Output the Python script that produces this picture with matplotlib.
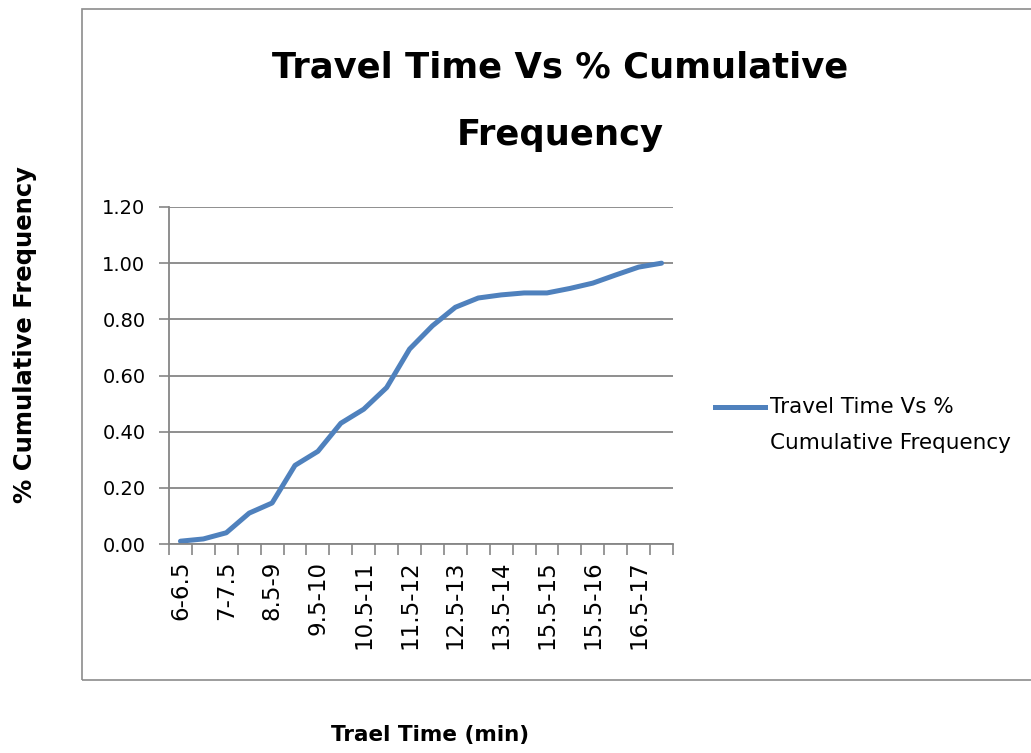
import matplotlib.pyplot as plt
from matplotlib.patches import Rectangle
from matplotlib.lines import Line2D

# Travel time bins (every other label shown on the axis)
bins = ['6-6.5', '6.5-7', '7-7.5', '7.5-8', '8.5-9', '9-9.5', '9.5-10', '10-10.5',
        '10.5-11', '11-11.5', '11.5-12', '12-12.5', '12.5-13', '13-13.5', '13.5-14',
        '14-14.5', '15.5-15', '15-15.5', '15.5-16', '16-16.5', '16.5-17', '17-17.5']
cum_freq = [0.01, 0.018, 0.04, 0.11, 0.146, 0.28, 0.33, 0.43, 0.48, 0.557, 0.694,
            0.777, 0.843, 0.876, 0.887, 0.894, 0.894, 0.91, 0.929, 0.958, 0.986, 1.0]
y_ticks = [0.0, 0.2, 0.4, 0.6, 0.8, 1.0, 1.2]

series_name = "Travel Time Vs % Cumulative Frequency"
line_color = '#4F81BD'
grid_color = '#868686'
plt.rcParams['font.family'] = ['DejaVu Sans']

W, H = 1031, 753
fig = plt.figure(figsize=(W / 100, H / 100), dpi=100)

# chart frame
fig.patches.append(Rectangle((82 / W, 1 - 680 / H), 1.2, (680 - 9) / H,
                             transform=fig.transFigure, fill=False,
                             edgecolor='#8c8c8c', linewidth=1.2))

ax = fig.add_axes([169 / W, 1 - 544 / H, (673 - 169) / W, (544 - 207) / H])
x = list(range(len(bins)))
ax.plot(x, cum_freq, color=line_color, linewidth=3.6, solid_capstyle='round')

ax.set_xlim(-0.5, len(bins) - 0.5)
ax.set_ylim(0, 1.2)
ax.set_yticks(y_ticks)
ax.set_yticklabels([f"{v:.2f}" for v in y_ticks], fontsize=14)
ax.yaxis.grid(True, color=grid_color, linewidth=1.3)
ax.set_axisbelow(True)

ax.set_xticks(x[::2])
ax.set_xticklabels(bins[::2], rotation=90, fontsize=16.5)
ax.set_xticks([i - 0.5 for i in range(len(bins) + 1)], minor=True)
ax.tick_params(axis='x', which='major', length=0, pad=12)
ax.tick_params(axis='x', which='minor', length=8, width=1.2, color=grid_color)
ax.tick_params(axis='y', length=7, width=1.2, color=grid_color, pad=10)

for s in ['top', 'right']:
    ax.spines[s].set_visible(False)
for s in ['left', 'bottom']:
    ax.spines[s].set_color(grid_color)
    ax.spines[s].set_linewidth(1.3)

# title
fig.text(560 / W, 1 - 68 / H, "Travel Time Vs % Cumulative", ha='center', va='center',
         fontsize=25.5, fontweight='bold')
fig.text(560 / W, 1 - 135 / H, "Frequency", ha='center', va='center',
         fontsize=25.5, fontweight='bold')

# axis titles
fig.text(25 / W, 1 - 335 / H, "% Cumulative Frequency", rotation=90, ha='center',
         va='center', fontsize=17.5, fontweight='bold')
fig.text(430 / W, 1 - 735 / H, "Trael Time (min)", ha='center', va='center',
         fontsize=15.5, fontweight='bold')

# legend
fig.lines.append(Line2D([715 / W, 765 / W], [1 - 407 / H, 1 - 407 / H],
                        transform=fig.transFigure, color=line_color, linewidth=3.6))
fig.text(770 / W, 1 - 407 / H, "Travel Time Vs %", ha='left', va='center', fontsize=15.5)
fig.text(770 / W, 1 - 443 / H, "Cumulative Frequency", ha='left', va='center', fontsize=15.5)

fig.savefig('out.png', dpi=100)
